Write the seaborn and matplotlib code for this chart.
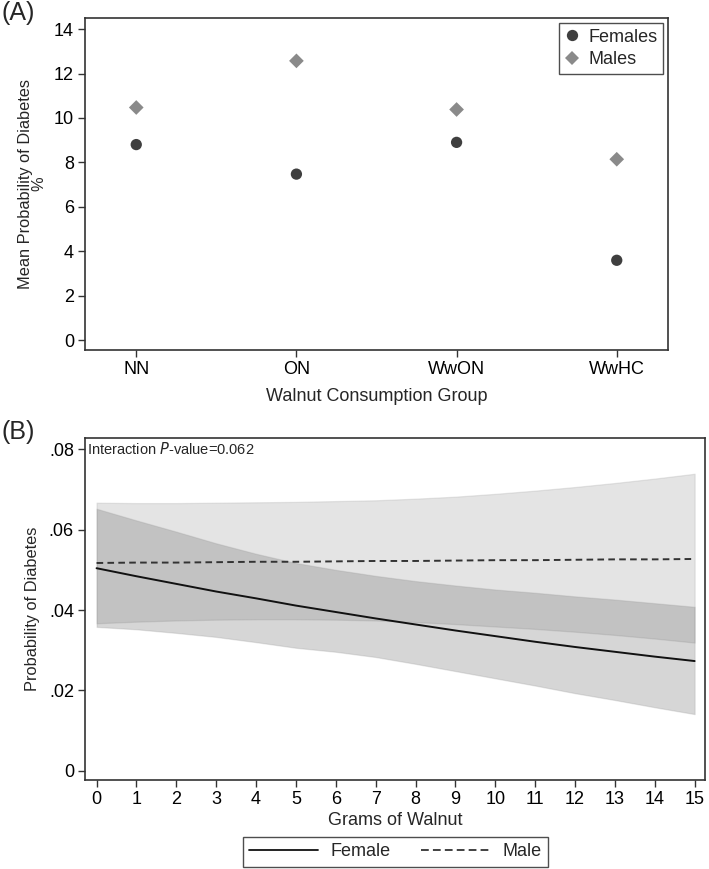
import numpy as np
import pandas as pd
import seaborn as sns
import matplotlib.pyplot as plt
from matplotlib.ticker import FuncFormatter
from matplotlib.lines import Line2D

# ---- data: panel A (mean probability %, by group) ----
groups = ['NN', 'ON', 'WwON', 'WwHC']
female_mean = [8.80, 7.47, 8.90, 3.59]
male_mean = [10.47, 12.57, 10.38, 8.14]

# ---- data: panel B (predicted probability vs grams of walnut) ----
grams = list(range(16))
female_p = [0.0504, 0.0484, 0.0465, 0.0446, 0.0429, 0.0411, 0.0395, 0.0379,
            0.0364, 0.0349, 0.0335, 0.0321, 0.0308, 0.0296, 0.0284, 0.0273]
female_lo = [0.0358, 0.0352, 0.0343, 0.0333, 0.0320, 0.0306, 0.0296, 0.0283,
             0.0266, 0.0248, 0.0230, 0.0212, 0.0193, 0.0176, 0.0158, 0.0141]
female_hi = [0.0652, 0.0623, 0.0595, 0.0566, 0.0540, 0.0517, 0.0500, 0.0485,
             0.0472, 0.0461, 0.0451, 0.0443, 0.0434, 0.0426, 0.0417, 0.0408]
male_p = [0.0517, 0.0518, 0.0518, 0.0519, 0.0520, 0.0520, 0.0521, 0.0522,
          0.0522, 0.0523, 0.0524, 0.0524, 0.0525, 0.0526, 0.0526, 0.0527]
male_lo = [0.0367, 0.0371, 0.0374, 0.0376, 0.0377, 0.0377, 0.0376, 0.0374,
           0.0370, 0.0365, 0.0359, 0.0353, 0.0346, 0.0338, 0.0329, 0.0319]
male_hi = [0.0667, 0.0666, 0.0666, 0.0667, 0.0668, 0.0669, 0.0671, 0.0673,
           0.0677, 0.0682, 0.0689, 0.0697, 0.0706, 0.0716, 0.0727, 0.0739]

sns.set_style('white')
plt.rcParams['font.family'] = ['Liberation Sans', 'DejaVu Sans']
plt.rcParams['axes.edgecolor'] = '#333333'
plt.rcParams['axes.linewidth'] = 1.2
plt.rcParams['xtick.color'] = '#333333'
plt.rcParams['ytick.color'] = '#333333'
plt.rcParams['xtick.labelcolor'] = 'black'
plt.rcParams['ytick.labelcolor'] = 'black'

FS = 13
W, H = 709, 869
fig = plt.figure(figsize=(W / 100, H / 100), dpi=100)


def box(l, t, r, b):
    return [l / W, 1 - b / H, (r - l) / W, (b - t) / H]


# ---------------- panel A ----------------
axA = fig.add_axes(box(85, 18, 668, 350))
dfA = pd.DataFrame({
    'group': groups * 2,
    'value': female_mean + male_mean,
    'sex': ['Females'] * len(groups) + ['Males'] * len(groups),
})
dfA['pos'] = dfA['group'].map({g: i for i, g in enumerate(groups)})
sns.scatterplot(data=dfA, x='pos', y='value', hue='sex', style='sex', size='sex',
                palette={'Females': '#3f3f3f', 'Males': '#8a8a8a'},
                markers={'Females': 'o', 'Males': 'D'},
                sizes={'Females': 66, 'Males': 56}, linewidth=0, ax=axA)
axA.set_xlim(-0.32, 3.32)
axA.set_ylim(-0.45, 14.5)
axA.set_xticks(range(len(groups)))
axA.set_xticklabels(groups)
axA.set_yticks(range(0, 15, 2))
axA.tick_params(axis='both', direction='out', length=5, width=1,
                labelsize=FS, bottom=True, left=True, pad=3)
axA.set_xlabel('Walnut Consumption Group', fontsize=FS, labelpad=7)
axA.set_ylabel('Mean Probability of Diabetes\n%', fontsize=11.8,
               linespacing=0.9, labelpad=5)
legA = axA.legend(loc='upper right', bbox_to_anchor=(0.9975, 0.995),
                  fontsize=FS, frameon=True, fancybox=False,
                  edgecolor='#222222', borderpad=0.3, handletextpad=0.45,
                  labelspacing=0.3, borderaxespad=0.2, handlelength=0.9)
legA.get_frame().set_linewidth(1.0)
fig.text(0.002, 1 - 1 / H, '(A)', fontsize=18, va='top', ha='left')

# ---------------- panel B ----------------
axB = fig.add_axes(box(85, 438, 705, 780))
axB.fill_between(grams, male_lo, male_hi, color='#a0a0a0', alpha=0.28,
                 edgecolor='#a8a8a8', linewidth=0.9)
axB.fill_between(grams, female_lo, female_hi, color='#616161', alpha=0.26,
                 edgecolor='#999999', linewidth=0.9)
dfB = pd.DataFrame({
    'grams': grams * 2,
    'prob': female_p + male_p,
    'sex': ['Female'] * len(grams) + ['Male'] * len(grams),
})
sns.lineplot(data=dfB, x='grams', y='prob', hue='sex', style='sex',
             palette={'Female': '#111111', 'Male': '#333333'},
             dashes={'Female': '', 'Male': (3.4, 2.2)}, linewidth=1.4,
             ax=axB, legend=False)
axB.set_xlim(-0.29, 15.26)
axB.set_ylim(-0.0023, 0.0828)
axB.set_xticks(range(16))
axB.set_yticks([0, 0.02, 0.04, 0.06, 0.08])
axB.yaxis.set_major_formatter(
    FuncFormatter(lambda v, p: '0' if v == 0 else f'{v:.2f}'.lstrip('0')))
axB.tick_params(axis='both', direction='out', length=5, width=1,
                labelsize=FS, bottom=True, left=True, pad=3)
axB.set_xlabel('Grams of Walnut', fontsize=FS, labelpad=3)
axB.set_ylabel('Probability of Diabetes', fontsize=11.8, labelpad=6)
axB.text(0.004, 0.99, 'Interaction $\\it{P}$-value=0.062', transform=axB.transAxes,
         fontsize=10.5, va='top', ha='left')
handles = [Line2D([], [], color='#111111', lw=1.3),
           Line2D([], [], color='#333333', lw=1.3, ls=(0, (4.3, 2.3)))]
legB = fig.legend(handles, ['Female', 'Male'], loc='center',
                  bbox_to_anchor=(395.5 / W, 1 - 851.7 / H), ncol=2,
                  fontsize=FS, frameon=True, fancybox=False,
                  edgecolor='#222222', handlelength=3.8, handletextpad=0.7,
                  columnspacing=1.7, borderpad=0.35)
legB.get_frame().set_linewidth(1.0)
fig.text(0.002, 1 - 420 / H, '(B)', fontsize=18, va='top', ha='left')

plt.savefig('out.png', dpi=100)
